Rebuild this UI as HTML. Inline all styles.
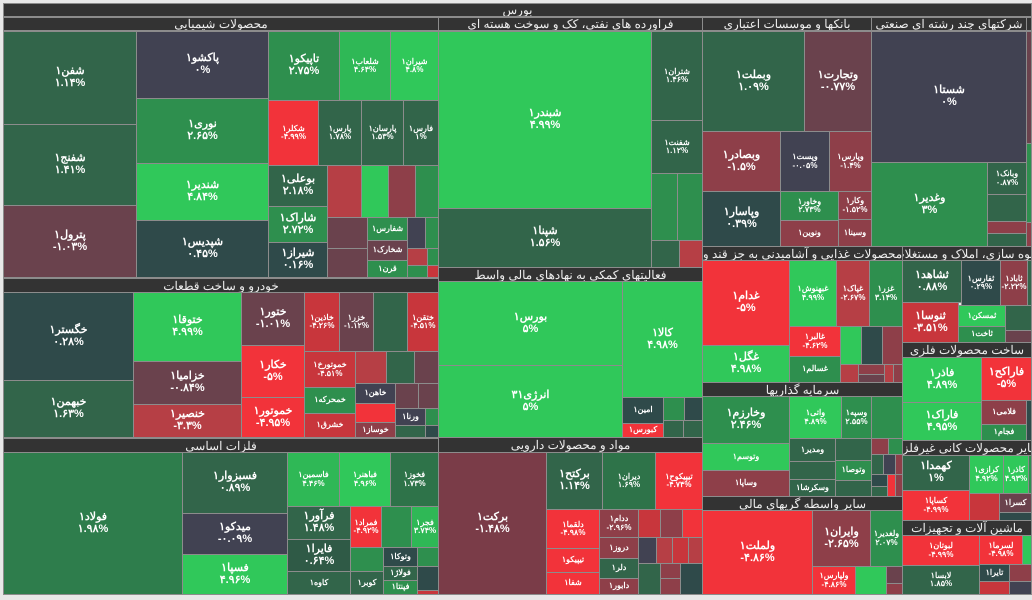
<!DOCTYPE html>
<html><head><meta charset="utf-8">
<style>
body{margin:0;width:1032px;height:600px;background:#e8e8e8;position:relative;overflow:hidden}
.c{position:absolute;box-sizing:border-box;border:1px solid #8c8c8c;display:flex;flex-direction:column;align-items:center;justify-content:center;color:#fff;font:bold 11px "Liberation Sans","Noto Sans CJK SC",sans-serif;text-align:center;line-height:1.05;overflow:hidden;white-space:nowrap}
.s{font-size:8px}
.h{position:absolute;box-sizing:border-box;border:1px solid #8c8c8c;background:#333;color:#eee;font:12px "Liberation Sans","Noto Sans CJK SC",sans-serif;display:flex;justify-content:center;align-items:center;line-height:12px;overflow:hidden;white-space:nowrap;direction:rtl}
.h span{flex:none}
.g5{background:#30c85a}.g4{background:#2fb856}.g3{background:#2e8f4e}.g2{background:#32654a}.t{background:#2f4a4a}.n{background:#414252}
.r1{background:#6a424d}.r2{background:#8e3f49}.r3{background:#c8363c}.r4{background:#b63f45}.r5{background:#f2333a}
</style></head><body>
<div class="h" style="left:3px;top:3px;width:1029px;height:14px"><span>بورس</span></div>

<div class="h" style="left:3px;top:17px;width:436px;height:14px"><span>محصولات شیمیایی</span></div>
<div class="c g2" style="left:3px;top:31px;width:134px;height:94px">شفن۱<br>۱.۱۴%</div>
<div class="c g2" style="left:3px;top:124px;width:134px;height:82px">شفنج۱<br>۱.۴۱%</div>
<div class="c r1" style="left:3px;top:205px;width:134px;height:73px">پترول۱<br>-۱.۰۳%</div>
<div class="c n" style="left:136px;top:31px;width:133px;height:68px">پاکشو۱<br>۰%</div>
<div class="c g3" style="left:136px;top:98px;width:133px;height:66px">نوری۱<br>۲.۶۵%</div>
<div class="c g5" style="left:136px;top:163px;width:133px;height:58px">شندیر۱<br>۴.۸۴%</div>
<div class="c t" style="left:136px;top:220px;width:133px;height:58px">شپدیس۱<br>۰.۴۵%</div>
<div class="c g3" style="left:268px;top:31px;width:72px;height:70px">تاپیکو۱<br>۲.۷۵%</div>
<div class="c g4 s" style="left:339px;top:31px;width:52px;height:70px">شلعاب۱<br>۴.۶۴%</div>
<div class="c g5 s" style="left:390px;top:31px;width:49px;height:70px">شیران۱<br>۴.۸%</div>
<div class="c r5 s" style="left:268px;top:100px;width:51px;height:66px">شکلر۱<br>-۴.۹۹%</div>
<div class="c g2 s" style="left:318px;top:100px;width:44px;height:66px">پارس۱<br>۱.۷۸%</div>
<div class="c g2 s" style="left:361px;top:100px;width:43px;height:66px">پارسان۱<br>۱.۵۳%</div>
<div class="c g2 s" style="left:403px;top:100px;width:36px;height:66px">فارس۱<br>۱%</div>
<div class="c g2" style="left:268px;top:165px;width:60px;height:42px">بوعلی۱<br>۲.۱۸%</div>
<div class="c g3" style="left:268px;top:206px;width:60px;height:37px">شاراک۱<br>۲.۷۲%</div>
<div class="c t" style="left:268px;top:242px;width:60px;height:36px">شیراز۱<br>۰.۱۶%</div>
<div class="c r4" style="left:327px;top:165px;width:35px;height:53px"></div>
<div class="c g5" style="left:361px;top:165px;width:28px;height:53px"></div>
<div class="c r2" style="left:388px;top:165px;width:28px;height:53px"></div>
<div class="c g3" style="left:415px;top:165px;width:24px;height:53px"></div>
<div class="c r1" style="left:327px;top:217px;width:41px;height:32px"></div>
<div class="c r1" style="left:327px;top:248px;width:41px;height:30px"></div>
<div class="c g3 s" style="left:367px;top:217px;width:41px;height:24px">شفارس۱</div>
<div class="c r1 s" style="left:367px;top:240px;width:41px;height:21px">شخارک۱</div>
<div class="c g3 s" style="left:367px;top:260px;width:41px;height:18px">قرن۱</div>
<div class="c n" style="left:407px;top:217px;width:19px;height:32px"></div>
<div class="c g3" style="left:425px;top:217px;width:14px;height:32px"></div>
<div class="c r4" style="left:407px;top:248px;width:21px;height:18px"></div>
<div class="c g3" style="left:427px;top:248px;width:12px;height:18px"></div>
<div class="c g3" style="left:407px;top:265px;width:21px;height:13px"></div>
<div class="c r3" style="left:427px;top:265px;width:12px;height:13px"></div>

<div class="h" style="left:3px;top:278px;width:436px;height:15px"><span>خودرو و ساخت قطعات</span></div>
<div class="c t" style="left:3px;top:292px;width:131px;height:90px">خگستر۱<br>۰.۲۸%</div>
<div class="c g2" style="left:3px;top:380px;width:131px;height:58px">خبهمن۱<br>۱.۶۳%</div>
<div class="c g5" style="left:133px;top:292px;width:109px;height:70px">ختوقا۱<br>۴.۹۹%</div>
<div class="c r1" style="left:133px;top:361px;width:109px;height:44px">خزامیا۱<br>-۰.۸۴%</div>
<div class="c r4" style="left:133px;top:404px;width:109px;height:34px">خنصیر۱<br>-۳.۳%</div>
<div class="c r1" style="left:241px;top:292px;width:64px;height:54px">ختور۱<br>-۱.۰۱%</div>
<div class="c r5" style="left:241px;top:345px;width:64px;height:53px">خکار۱<br>-۵%</div>
<div class="c r5" style="left:241px;top:397px;width:64px;height:41px">خموتور۱<br>-۴.۹۵%</div>
<div class="c r3 s" style="left:304px;top:292px;width:36px;height:60px">خاذین۱<br>-۴.۲۶%</div>
<div class="c r1 s" style="left:339px;top:292px;width:35px;height:60px">خزر۱<br>-۱.۱۲%</div>
<div class="c g2" style="left:373px;top:292px;width:35px;height:60px"></div>
<div class="c r3 s" style="left:407px;top:292px;width:32px;height:60px">ختقن۱<br>-۴.۵۱%</div>
<div class="c r3 s" style="left:304px;top:351px;width:52px;height:37px">خموتورخ۱<br>-۴.۵۱%</div>
<div class="c g3 s" style="left:304px;top:387px;width:52px;height:27px">خمحرکه۱</div>
<div class="c r3 s" style="left:304px;top:413px;width:52px;height:25px">خشرق۱</div>
<div class="c r4" style="left:355px;top:351px;width:32px;height:33px"></div>
<div class="c g2" style="left:386px;top:351px;width:29px;height:33px"></div>
<div class="c r1" style="left:414px;top:351px;width:25px;height:33px"></div>
<div class="c n s" style="left:355px;top:383px;width:41px;height:21px">خاهن۱</div>
<div class="c r1" style="left:395px;top:383px;width:24px;height:26px"></div>
<div class="c r1" style="left:418px;top:383px;width:21px;height:26px"></div>
<div class="c r5" style="left:355px;top:403px;width:41px;height:20px"></div>
<div class="c r2 s" style="left:355px;top:422px;width:41px;height:16px">خوساز۱</div>
<div class="c n s" style="left:395px;top:408px;width:31px;height:18px">ورنا۱</div>
<div class="c g3" style="left:425px;top:408px;width:14px;height:18px"></div>
<div class="c g2" style="left:395px;top:425px;width:31px;height:13px"></div>
<div class="c t" style="left:425px;top:425px;width:14px;height:13px"></div>

<div class="h" style="left:3px;top:438px;width:436px;height:15px"><span>فلزات اساسی</span></div>
<div class="c g3" style="left:3px;top:452px;width:180px;height:143px;background:#2e7d4c">فولاد۱<br>۱.۹۸%</div>
<div class="c g2" style="left:182px;top:452px;width:106px;height:62px">فسبزوار۱<br>۰.۸۹%</div>
<div class="c n" style="left:182px;top:513px;width:106px;height:42px">میدکو۱<br>-۰.۰۹%</div>
<div class="c g5" style="left:182px;top:554px;width:106px;height:41px">فسپا۱<br>۴.۹۶%</div>
<div class="c g4 s" style="left:287px;top:452px;width:53px;height:55px">فاسمین۱<br>۴.۴۶%</div>
<div class="c g5 s" style="left:339px;top:452px;width:52px;height:55px">فباهنر۱<br>۴.۹۶%</div>
<div class="c g2 s" style="left:390px;top:452px;width:49px;height:55px;background:#2e7349">فخوز۱<br>۱.۷۳%</div>
<div class="c g2" style="left:287px;top:506px;width:64px;height:34px">فرآور۱<br>۱.۴۸%</div>
<div class="c t" style="left:287px;top:539px;width:64px;height:33px;background:#2f5a46">فایرا۱<br>۰.۶۴%</div>
<div class="c g2 s" style="left:287px;top:571px;width:64px;height:24px">کاوه۱</div>
<div class="c r5 s" style="left:350px;top:506px;width:32px;height:42px">فمراد۱<br>-۴.۹۲%</div>
<div class="c g3" style="left:381px;top:506px;width:31px;height:42px"></div>
<div class="c g4 s" style="left:411px;top:506px;width:28px;height:42px">فجر۱<br>۳.۷۴%</div>
<div class="c g3" style="left:350px;top:547px;width:34px;height:25px"></div>
<div class="c g2 s" style="left:350px;top:571px;width:34px;height:24px">کوبر۱</div>
<div class="c t s" style="left:383px;top:547px;width:35px;height:20px">وتوکا۱</div>
<div class="c g2 s" style="left:383px;top:566px;width:35px;height:15px">فولاژ۱</div>
<div class="c g3 s" style="left:383px;top:580px;width:35px;height:15px">فپنتا۱</div>
<div class="c g3" style="left:417px;top:547px;width:22px;height:20px"></div>
<div class="c t" style="left:417px;top:566px;width:22px;height:25px"></div>
<div class="c r3" style="left:417px;top:590px;width:22px;height:5px"></div>

<div class="h" style="left:438px;top:17px;width:265px;height:14px"><span>فراورده های نفتی، کک و سوخت هسته ای</span></div>
<div class="c g5" style="left:438px;top:31px;width:214px;height:178px">شبندر۱<br>۴.۹۹%</div>
<div class="c g2" style="left:438px;top:208px;width:214px;height:60px">شپنا۱<br>۱.۵۶%</div>
<div class="c g2 s" style="left:651px;top:31px;width:52px;height:90px">شتران۱<br>۱.۴۶%</div>
<div class="c g2 s" style="left:651px;top:120px;width:52px;height:54px">شفنت۱<br>۱.۱۲%</div>
<div class="c g3" style="left:651px;top:173px;width:27px;height:68px"></div>
<div class="c g3" style="left:677px;top:173px;width:26px;height:68px"></div>
<div class="c g2" style="left:651px;top:240px;width:29px;height:28px"></div>
<div class="c r4" style="left:679px;top:240px;width:24px;height:28px"></div>
<div class="h" style="left:438px;top:267px;width:265px;height:15px"><span>فعالیتهای کمکی به نهادهای مالی واسط</span></div>
<div class="c g5" style="left:438px;top:281px;width:185px;height:85px">بورس۱<br>۵%</div>
<div class="c g5" style="left:438px;top:365px;width:185px;height:73px">انرژی۳۱<br>۵%</div>
<div class="c g5" style="left:622px;top:281px;width:81px;height:117px">کالا۱<br>۴.۹۸%</div>
<div class="c t s" style="left:622px;top:397px;width:42px;height:27px">امین۱</div>
<div class="c r5 s" style="left:622px;top:423px;width:42px;height:15px">کبورس۱</div>
<div class="c g3" style="left:663px;top:397px;width:22px;height:24px"></div>
<div class="c t" style="left:684px;top:397px;width:19px;height:24px"></div>
<div class="c g2" style="left:663px;top:420px;width:21px;height:18px"></div>
<div class="c g2" style="left:683px;top:420px;width:20px;height:18px"></div>
<div class="h" style="left:438px;top:437px;width:265px;height:16px"><span>مواد و محصولات دارویی</span></div>
<div class="c r1" style="left:438px;top:452px;width:109px;height:143px;background:#7a3c48">برکت۱<br>-۱.۴۸%</div>
<div class="c g2" style="left:546px;top:452px;width:57px;height:58px">برکتح۱<br>۱.۱۴%</div>
<div class="c g2 s" style="left:602px;top:452px;width:54px;height:58px;background:#2e7349">دیران۱<br>۱.۶۹%</div>
<div class="c r5 s" style="left:655px;top:452px;width:48px;height:58px">تیپیکوح۱<br>-۴.۷۴%</div>
<div class="c r5 s" style="left:546px;top:509px;width:54px;height:40px">دلقما۱<br>-۴.۹۸%</div>
<div class="c r5 s" style="left:546px;top:548px;width:54px;height:25px">تیپیکو۱</div>
<div class="c r5 s" style="left:546px;top:572px;width:54px;height:23px">شفا۱</div>
<div class="c r2 s" style="left:599px;top:509px;width:40px;height:29px">ددام۱<br>-۲.۹۶%</div>
<div class="c r2 s" style="left:599px;top:537px;width:40px;height:22px">دروز۱</div>
<div class="c g2 s" style="left:599px;top:558px;width:40px;height:21px">دلر۱</div>
<div class="c r2 s" style="left:599px;top:578px;width:40px;height:17px">دابور۱</div>
<div class="c r3" style="left:638px;top:509px;width:23px;height:29px"></div>
<div class="c r2" style="left:660px;top:509px;width:23px;height:29px"></div>
<div class="c r5" style="left:682px;top:509px;width:21px;height:29px"></div>
<div class="c n" style="left:638px;top:537px;width:19px;height:27px"></div>
<div class="c r4" style="left:656px;top:537px;width:17px;height:27px"></div>
<div class="c r3" style="left:672px;top:537px;width:17px;height:27px"></div>
<div class="c r4" style="left:688px;top:537px;width:15px;height:27px"></div>
<div class="c g2" style="left:638px;top:563px;width:23px;height:32px"></div>
<div class="c r2" style="left:660px;top:563px;width:21px;height:16px"></div>
<div class="c r2" style="left:660px;top:578px;width:21px;height:17px"></div>
<div class="c t" style="left:680px;top:563px;width:23px;height:32px"></div>

<div class="h" style="left:702px;top:17px;width:170px;height:14px"><span>بانکها و موسسات اعتباری</span></div>
<div class="c g2" style="left:702px;top:31px;width:103px;height:101px">وبملت۱<br>۱.۰۹%</div>
<div class="c r1" style="left:804px;top:31px;width:68px;height:101px">وتجارت۱<br>-۰.۷۷%</div>
<div class="c r2" style="left:702px;top:131px;width:79px;height:61px">وبصادر۱<br>-۱.۵%</div>
<div class="c n s" style="left:780px;top:131px;width:50px;height:61px">وپست۱<br>-۰.۰۵%</div>
<div class="c r2 s" style="left:829px;top:131px;width:43px;height:61px">وپارس۱<br>-۱.۴%</div>
<div class="c t" style="left:702px;top:191px;width:79px;height:56px">وپاسار۱<br>۰.۳۹%</div>
<div class="c g3 s" style="left:780px;top:191px;width:59px;height:30px">وخاور۱<br>۲.۷۳%</div>
<div class="c r2 s" style="left:838px;top:191px;width:34px;height:29px">وکار۱<br>-۱.۵۲%</div>
<div class="c r2 s" style="left:780px;top:220px;width:59px;height:27px">ونوین۱</div>
<div class="c r2 s" style="left:838px;top:219px;width:34px;height:28px">وسینا۱</div>
<div class="h" style="left:871px;top:17px;width:156px;height:14px"><span>شرکتهای چند رشته ای صنعتی</span></div>
<div class="h" style="left:1026px;top:17px;width:6px;height:14px"></div>
<div class="c n" style="left:871px;top:31px;width:156px;height:132px">شستا۱<br>۰%</div>
<div class="c g3" style="left:871px;top:162px;width:117px;height:85px">وغدیر۱<br>۳%</div>
<div class="c g2 s" style="left:987px;top:162px;width:40px;height:33px">وبانک۱<br>۰.۸۷%</div>
<div class="c g2" style="left:987px;top:194px;width:40px;height:28px"></div>
<div class="c r2" style="left:987px;top:221px;width:40px;height:13px"></div>
<div class="c g2" style="left:987px;top:233px;width:40px;height:14px"></div>
<div class="c r1" style="left:1026px;top:31px;width:6px;height:113px"></div>
<div class="c g3" style="left:1026px;top:143px;width:6px;height:80px"></div>
<div class="c r2" style="left:1026px;top:222px;width:6px;height:25px"></div>

<div class="h" style="left:702px;top:246px;width:201px;height:15px"><span>محصولات غذایی و آشامیدنی به جز قند و</span></div>
<div class="c r5" style="left:702px;top:260px;width:88px;height:86px">غدام۱<br>-۵%</div>
<div class="c g5" style="left:702px;top:345px;width:88px;height:38px">غگل۱<br>۴.۹۸%</div>
<div class="c g5 s" style="left:789px;top:260px;width:48px;height:67px">غبهنوش۱<br>۴.۹۹%</div>
<div class="c r4 s" style="left:836px;top:260px;width:34px;height:67px">غپاک۱<br>-۲.۶۷%</div>
<div class="c g3 s" style="left:869px;top:260px;width:34px;height:67px">غزر۱<br>۳.۱۴%</div>
<div class="c r5 s" style="left:789px;top:326px;width:52px;height:31px">غالبر۱<br>-۴.۶۲%</div>
<div class="c g3 s" style="left:789px;top:356px;width:52px;height:27px">غسالم۱</div>
<div class="c g5" style="left:840px;top:326px;width:22px;height:39px"></div>
<div class="c t" style="left:861px;top:326px;width:22px;height:39px"></div>
<div class="c r2" style="left:882px;top:326px;width:21px;height:39px"></div>
<div class="c r4" style="left:840px;top:364px;width:19px;height:19px"></div>
<div class="c r2" style="left:858px;top:364px;width:27px;height:11px"></div>
<div class="c r1" style="left:858px;top:374px;width:27px;height:9px"></div>
<div class="c r4" style="left:884px;top:364px;width:10px;height:19px"></div>
<div class="c r2" style="left:893px;top:364px;width:10px;height:19px"></div>
<div class="h" style="left:702px;top:382px;width:201px;height:15px"><span>سرمایه گذاریها</span></div>
<div class="c g3" style="left:702px;top:396px;width:88px;height:48px">وخارزم۱<br>۲.۴۶%</div>
<div class="c g5 s" style="left:702px;top:443px;width:88px;height:28px">وتوسم۱</div>
<div class="c r2 s" style="left:702px;top:470px;width:88px;height:27px">وساپا۱</div>
<div class="c g5 s" style="left:789px;top:396px;width:53px;height:43px">واتی۱<br>۴.۸۹%</div>
<div class="c g3 s" style="left:841px;top:396px;width:31px;height:43px">وسپه۱<br>۲.۵۵%</div>
<div class="c g3" style="left:871px;top:396px;width:32px;height:43px"></div>
<div class="c g2 s" style="left:789px;top:438px;width:47px;height:24px">ومدیر۱</div>
<div class="c g2" style="left:835px;top:438px;width:37px;height:23px"></div>
<div class="c r2" style="left:871px;top:438px;width:18px;height:17px"></div>
<div class="c g3" style="left:888px;top:438px;width:15px;height:17px"></div>
<div class="c g2" style="left:789px;top:461px;width:47px;height:20px"></div>
<div class="c g3 s" style="left:835px;top:460px;width:37px;height:21px">وتوصا۱</div>
<div class="c g2" style="left:871px;top:454px;width:13px;height:21px"></div>
<div class="c n" style="left:883px;top:454px;width:13px;height:21px"></div>
<div class="c r2" style="left:895px;top:454px;width:8px;height:21px"></div>
<div class="c g2 s" style="left:789px;top:479px;width:47px;height:18px">وسکرشا۱</div>
<div class="c g2" style="left:835px;top:480px;width:37px;height:17px"></div>
<div class="c t" style="left:871px;top:474px;width:17px;height:13px"></div>
<div class="c g2" style="left:871px;top:486px;width:17px;height:11px"></div>
<div class="c r5" style="left:887px;top:474px;width:9px;height:23px"></div>
<div class="c r2" style="left:895px;top:474px;width:8px;height:23px"></div>
<div class="h" style="left:702px;top:496px;width:201px;height:15px"><span>سایر واسطه گریهای مالی</span></div>
<div class="c r5" style="left:702px;top:510px;width:111px;height:85px">ولملت۱<br>-۴.۸۶%</div>
<div class="c r2" style="left:812px;top:510px;width:59px;height:57px">وایران۱<br>-۲.۶۵%</div>
<div class="c g3 s" style="left:870px;top:510px;width:33px;height:57px">ولغدیر۱<br>۲.۰۷%</div>
<div class="c r5 s" style="left:812px;top:566px;width:44px;height:29px">ولپارس۱<br>-۴.۸۶%</div>
<div class="c g5" style="left:855px;top:566px;width:32px;height:29px"></div>
<div class="c r1" style="left:886px;top:566px;width:17px;height:18px"></div>
<div class="c r2" style="left:886px;top:583px;width:17px;height:12px"></div>

<div class="h" style="left:902px;top:246px;width:130px;height:15px"><span>انبوه سازی، املاک و مستغلات</span></div>
<div class="c g2" style="left:902px;top:260px;width:60px;height:43px">ثشاهد۱<br>۰.۸۸%</div>
<div class="c t s" style="left:961px;top:260px;width:40px;height:46px">ثفارس۱<br>۰.۲۹%</div>
<div class="c r2 s" style="left:1000px;top:260px;width:28px;height:46px">ثاباد۱<br>-۲.۲۲%</div>
<div class="c g2" style="left:1027px;top:260px;width:5px;height:46px"></div>
<div class="c r3" style="left:902px;top:302px;width:57px;height:41px">ثنوسا۱<br>-۳.۵۱%</div>
<div class="c g5 s" style="left:958px;top:305px;width:48px;height:22px">ثمسکن۱</div>
<div class="c g3 s" style="left:958px;top:326px;width:48px;height:17px">ثاخت۱</div>
<div class="c g2" style="left:1005px;top:305px;width:27px;height:26px"></div>
<div class="c r1" style="left:1005px;top:330px;width:27px;height:13px"></div>
<div class="h" style="left:902px;top:342px;width:130px;height:16px"><span>ساخت محصولات فلزی</span></div>
<div class="c g5" style="left:902px;top:357px;width:80px;height:46px">فاذر۱<br>۴.۸۹%</div>
<div class="c g5" style="left:902px;top:402px;width:80px;height:39px">فاراک۱<br>۴.۹۵%</div>
<div class="c r5" style="left:981px;top:357px;width:51px;height:44px">فاراکح۱<br>-۵%</div>
<div class="c r2 s" style="left:981px;top:400px;width:46px;height:25px">فلامی۱</div>
<div class="c g3 s" style="left:981px;top:424px;width:46px;height:17px">فجام۱</div>
<div class="c t" style="left:1026px;top:400px;width:6px;height:41px"></div>
<div class="h" style="left:902px;top:440px;width:130px;height:16px"><span>سایر محصولات کانی غیرفلزی</span></div>
<div class="c g2" style="left:902px;top:455px;width:68px;height:36px">کهمدا۱<br>۱%</div>
<div class="c g5 s" style="left:969px;top:455px;width:35px;height:39px">کرازی۱<br>۴.۹۲%</div>
<div class="c g5 s" style="left:1003px;top:455px;width:26px;height:39px">کاذر۱<br>۴.۹۳%</div>
<div class="c g3" style="left:1028px;top:455px;width:4px;height:39px"></div>
<div class="c r5 s" style="left:902px;top:490px;width:68px;height:31px">کساپا۱<br>-۴.۹۹%</div>
<div class="c r3" style="left:969px;top:493px;width:31px;height:28px"></div>
<div class="c r1 s" style="left:999px;top:493px;width:33px;height:20px">کسرا۱</div>
<div class="c t" style="left:999px;top:512px;width:33px;height:9px"></div>
<div class="h" style="left:902px;top:520px;width:130px;height:16px"><span>ماشین آلات و تجهیزات</span></div>
<div class="c r5 s" style="left:902px;top:535px;width:78px;height:31px">لبوتان۱<br>-۴.۹۹%</div>
<div class="c r5 s" style="left:979px;top:535px;width:44px;height:30px">لسرما۱<br>-۴.۹۸%</div>
<div class="c g5" style="left:1022px;top:535px;width:10px;height:30px"></div>
<div class="c g2 s" style="left:902px;top:565px;width:78px;height:30px">لابسا۱<br>۱.۸۵%</div>
<div class="c t s" style="left:979px;top:564px;width:31px;height:18px">تایرا۱</div>
<div class="c r2" style="left:1009px;top:564px;width:23px;height:18px"></div>
<div class="c r3" style="left:979px;top:581px;width:31px;height:14px"></div>
<div class="c n" style="left:1009px;top:581px;width:23px;height:14px"></div>
</body></html>
